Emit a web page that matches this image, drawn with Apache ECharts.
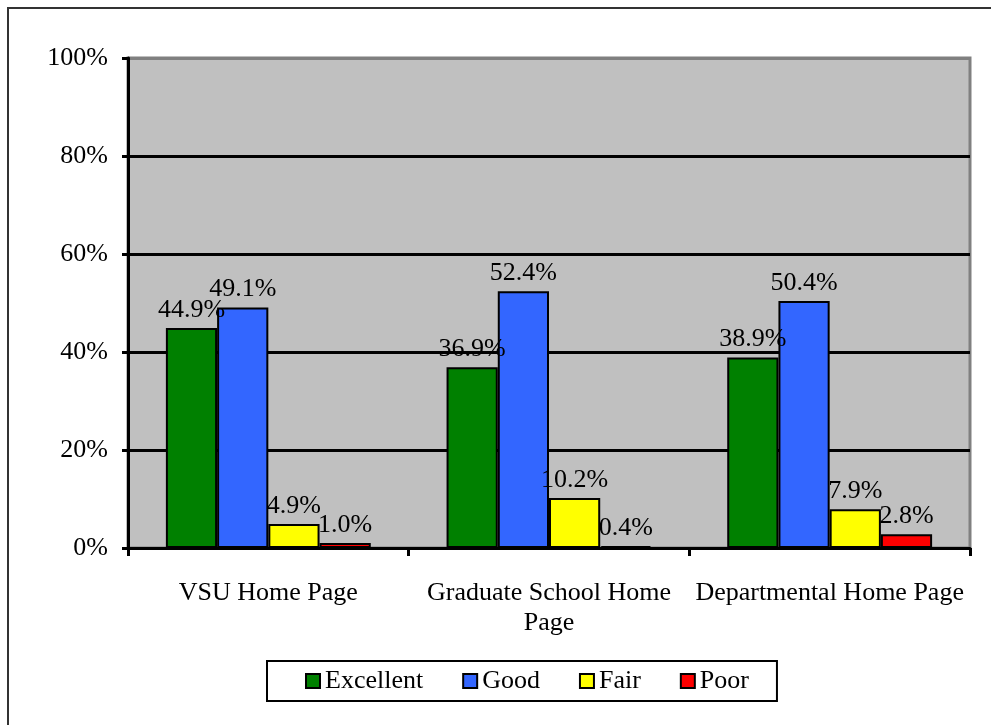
<!DOCTYPE html>
<html>
<head>
<meta charset="utf-8">
<script src="https://cdn.jsdelivr.net/npm/echarts@6/dist/echarts.min.js"></script>
<style>
    html, body { margin: 0; padding: 0; background: #fff; }
    #chart { width: 991px; height: 725px; }
</style>
</head>
<body>
<div id="chart"></div>
<script>
// Data
const categories = ['VSU Home Page', 'Graduate School Home\nPage', 'Departmental Home Page'];
const excellent = [44.9, 36.9, 38.9];
const good = [49.1, 52.4, 50.4];
const fair = [4.9, 10.2, 7.9];
const poor = [1.0, 0.4, 2.8];

const font = 'Liberation Serif';

function makeSeries(name, data, color) {
    return {
        name: name,
        type: 'bar',
        data: data,
        barGap: '0%',
        barCategoryGap: '27%',
        itemStyle: { color: color, borderColor: '#000', borderWidth: 2 },
        label: {
            show: true,
            position: 'top',
            distance: 5,
            color: '#000',
            fontFamily: font,
            fontSize: 26,
            formatter: p => p.value.toFixed(1) + '%'
        }
    };
}

const chart = echarts.init(document.getElementById('chart'));
chart.setOption({
    backgroundColor: '#fff',
    animation: false,
    graphic: [{
        type: 'rect',
        shape: { x: 8, y: 8, width: 1100, height: 900 },
        style: { fill: 'none', stroke: '#333', lineWidth: 2 },
        z: 100
    }],
    grid: {
        left: 128, right: 21, top: 58, bottom: 177,
        show: true,
        backgroundColor: '#c0c0c0',
        borderColor: '#808080',
        borderWidth: 3
    },
    legend: {
        left: 267,
        top: 661,
        padding: [7, 28, 7, 38],
        itemGap: 39,
        itemWidth: 14,
        itemHeight: 14,
        icon: 'rect',
        borderColor: '#000',
        borderWidth: 2,
        itemStyle: { borderColor: '#000', borderWidth: 2 },
        textStyle: { color: '#000', fontFamily: font, fontSize: 26 },
        data: ['Excellent', 'Good', 'Fair', 'Poor']
    },
    xAxis: {
        type: 'category',
        data: categories,
        axisLine: { lineStyle: { color: '#000', width: 3 } },
        axisTick: { show: true, length: 8, lineStyle: { color: '#000', width: 3 } },
        axisLabel: {
            interval: 0,
            color: '#000', fontFamily: font, fontSize: 26, margin: 30, lineHeight: 30
        }
    },
    yAxis: {
        type: 'value',
        min: 0, max: 100, interval: 20,
        axisLine: { show: true, lineStyle: { color: '#000', width: 3 } },
        axisTick: { show: true, length: 6, lineStyle: { color: '#000', width: 3 } },
        axisLabel: {
            color: '#000', fontFamily: font, fontSize: 26, margin: 20,
            formatter: '{value}%'
        },
        splitLine: {
            show: true,
            lineStyle: {
                color: ['#000', '#000', '#000', '#000', '#000', '#808080'],
                width: 3
            }
        }
    },
    series: [
        makeSeries('Excellent', excellent, '#008000'),
        makeSeries('Good', good, '#3366ff'),
        makeSeries('Fair', fair, '#ffff00'),
        makeSeries('Poor', poor, '#ff0000')
    ]
});
</script>
</body>
</html>
